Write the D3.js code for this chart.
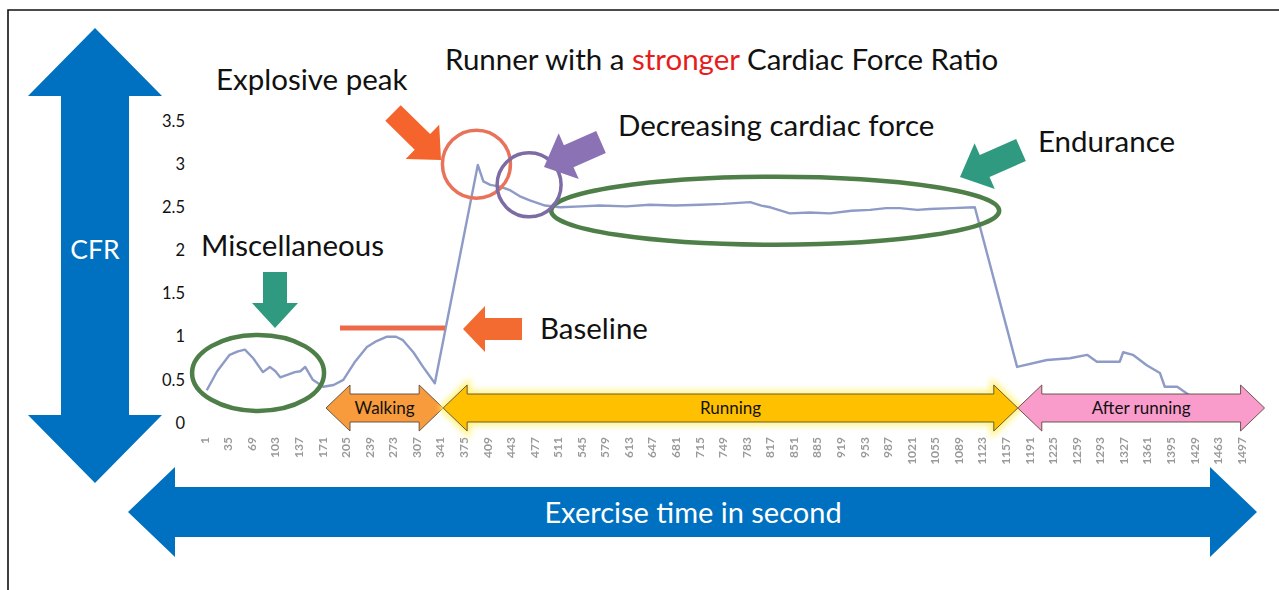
<!DOCTYPE html>
<html>
<head>
<meta charset="utf-8">
<script src="https://cdn.jsdelivr.net/npm/d3@7"></script>
<style>
  body { margin: 0; background: #fff; }
  svg { display: block; font-family: Lato, "Noto Sans", sans-serif; }
</style>
</head>
<body>
<div id="chart"></div>
<script>
var width = 1279;
var height = 590;

// x categories printed under the chart (seconds)
var timeTicks = [1, 35, 69, 103, 137, 171, 205, 239, 273, 307, 341, 375, 409, 443, 477,
  511, 545, 579, 613, 647, 681, 715, 749, 783, 817, 851, 885, 919, 953, 987, 1021,
  1055, 1089, 1123, 1157, 1191, 1225, 1259, 1293, 1327, 1361, 1395, 1429, 1463, 1497];
var cfrTicks = [0, 0.5, 1, 1.5, 2, 2.5, 3, 3.5];

// CFR trace
var cfrTime = [5, 20, 38, 50, 60, 72, 86, 96, 104, 111, 122, 132, 140, 147, 158, 173,
  188, 202, 218, 236, 250, 265, 278, 288, 303, 317, 334, 396, 404, 414, 428, 442,
  456, 471, 493, 515, 545, 572, 610, 644, 680, 717, 750, 789, 805, 818, 846, 875,
  904, 935, 962, 985, 1005, 1030, 1048, 1080, 1113, 1174, 1217, 1250, 1275, 1289,
  1322, 1327, 1341, 1361, 1380, 1387, 1405, 1423];
var cfrValue = [0.38, 0.6, 0.79, 0.83, 0.85, 0.75, 0.59, 0.65, 0.6, 0.53, 0.56, 0.59,
  0.6, 0.65, 0.5, 0.42, 0.44, 0.5, 0.7, 0.88, 0.95, 1.0, 1.0, 0.96, 0.82, 0.65,
  0.46, 2.99, 2.8, 2.76, 2.74, 2.7, 2.63, 2.58, 2.52, 2.5, 2.51, 2.52, 2.51, 2.53,
  2.52, 2.53, 2.54, 2.56, 2.52, 2.5, 2.43, 2.44, 2.43, 2.46, 2.47, 2.49, 2.49, 2.47,
  2.48, 2.49, 2.5, 0.65, 0.73, 0.75, 0.79, 0.71, 0.71, 0.82, 0.79, 0.67, 0.58,
  0.42, 0.42, 0.32];

// exercise phases (start / end in seconds)
var phaseNames = ["Walking", "Running", "After running"];
var phaseStart = [177, 346, 1175];
var phaseEnd = [346, 1175, 1531];
var phaseColors = ["#F79B3C", "#FFC000", "#F99BCB"];

var svg = d3.select("#chart").append("svg")
  .attr("width", width)
  .attr("height", height);

var defs = svg.append("defs");
defs.append("filter").attr("id", "soft")
  .append("feGaussianBlur").attr("stdDeviation", 0.7);
defs.append("filter").attr("id", "glow").attr("x", "-5%").attr("y", "-50%")
  .attr("width", "110%").attr("height", "200%")
  .append("feGaussianBlur").attr("stdDeviation", 3);

// frame
svg.append("path")
  .attr("d", "M8,590 V10 H1279")
  .attr("fill", "none")
  .attr("stroke", "#111")
  .attr("stroke-width", 1.6);

var x = d3.scaleLinear().domain([1, 1497]).range([204, 1241]);
var y = d3.scaleLinear().domain([0, 3.5]).range([423, 121]);

function blockArrow(g, x1, y1, x2, y2, shaftHalf, headHalf, headLen, fill) {
  var len = Math.hypot(x2 - x1, y2 - y1);
  var ang = Math.atan2(y2 - y1, x2 - x1) * 180 / Math.PI;
  var pts = [[0, -shaftHalf], [len - headLen, -shaftHalf], [len - headLen, -headHalf],
    [len, 0], [len - headLen, headHalf], [len - headLen, shaftHalf], [0, shaftHalf]];
  return g.append("polygon")
    .attr("points", pts.join(" "))
    .attr("transform", `translate(${x1},${y1}) rotate(${ang})`)
    .attr("fill", fill);
}

function doubleArrow(g, x1, y1, x2, y2, shaftHalf, headHalf, headLen, fill) {
  var len = Math.hypot(x2 - x1, y2 - y1);
  var ang = Math.atan2(y2 - y1, x2 - x1) * 180 / Math.PI;
  var pts = [[0, 0], [headLen, -headHalf], [headLen, -shaftHalf], [len - headLen, -shaftHalf],
    [len - headLen, -headHalf], [len, 0], [len - headLen, headHalf], [len - headLen, shaftHalf],
    [headLen, shaftHalf], [headLen, headHalf]];
  return g.append("polygon")
    .attr("points", pts.join(" "))
    .attr("transform", `translate(${x1},${y1}) rotate(${ang})`)
    .attr("fill", fill);
}

// big blue axis arrows
var big = svg.append("g");
doubleArrow(big, 95, 28, 95, 483, 34, 67, 68, "#0070C0");
doubleArrow(big, 128, 512, 1257, 512, 25, 45, 47, "#0070C0");
big.append("text")
  .attr("x", 95).attr("y", 259)
  .attr("text-anchor", "middle")
  .attr("fill", "#fff")
  .style("font-size", "26.5px")
  .text("CFR");
big.append("text")
  .attr("x", 693).attr("y", 523)
  .attr("text-anchor", "middle")
  .attr("fill", "#fff")
  .style("font-size", "29px")
  .text("Exercise time in second");

// y axis labels
svg.append("g")
  .attr("transform", "translate(185,0)")
  .call(d3.axisLeft(y).tickValues(cfrTicks).tickSize(0).tickPadding(0).tickFormat(d => d))
  .call(g => g.select(".domain").remove())
  .selectAll("text")
  .attr("fill", "#111")
  .style("font-family", "Lato, sans-serif")
  .style("font-size", "16.5px");

// x axis labels, rotated and faded as in the original scan
svg.append("g")
  .attr("transform", "translate(0,437)")
  .attr("filter", "url(#soft)")
  .call(d3.axisBottom(x).tickValues(timeTicks).tickSize(0).tickFormat(d => d))
  .call(g => g.select(".domain").remove())
  .selectAll("text")
  .attr("transform", "rotate(-90)")
  .attr("x", 0)
  .attr("y", 0)
  .attr("dy", "0.35em")
  .style("text-anchor", "end")
  .style("font-family", "Lato, sans-serif")
  .style("font-size", "12px")
  .style("font-weight", "bold")
  .attr("fill", "#9a9a9a");

// CFR line
var line = d3.line()
  .x((d, i) => x(cfrTime[i]))
  .y(d => y(d));

svg.append("path")
  .datum(cfrValue)
  .attr("d", line)
  .attr("fill", "none")
  .attr("stroke", "#8D9BC6")
  .attr("stroke-width", 2.4)
  .attr("stroke-linejoin", "round");

// phase arrows
var phases = svg.append("g");
var phaseY = 408;
phaseNames.forEach(function (name, i) {
  var x1 = x(phaseStart[i]);
  var x2 = x(phaseEnd[i]);
  if (name === "Running") {
    doubleArrow(phases, x1, phaseY, x2, phaseY, 14, 23, 24, "none")
      .attr("stroke", "#FFF266")
      .attr("stroke-width", 6)
      .attr("filter", "url(#glow)");
  }
  doubleArrow(phases, x1, phaseY, x2, phaseY, 14, 23, 24, phaseColors[i])
    .attr("stroke", "#5a4a3a")
    .attr("stroke-width", 0.9);
  phases.append("text")
    .attr("x", (x1 + x2) / 2)
    .attr("y", phaseY + 6)
    .attr("text-anchor", "middle")
    .attr("fill", "#111")
    .style("font-size", "17px")
    .text(name);
});

// annotation ellipses
var notes = svg.append("g").attr("fill", "none");
notes.append("ellipse")
  .attr("cx", x(79)).attr("cy", y(0.58)).attr("rx", 66).attr("ry", 38)
  .attr("stroke", "#4E7F48").attr("stroke-width", 4.5);
notes.append("ellipse")
  .attr("cx", x(825)).attr("cy", y(2.46)).attr("rx", 224).attr("ry", 34)
  .attr("stroke", "#4E7F48").attr("stroke-width", 4.5);
notes.append("circle")
  .attr("cx", x(394)).attr("cy", y(3.0)).attr("r", 34)
  .attr("stroke", "#E8735A").attr("stroke-width", 3.5);
notes.append("circle")
  .attr("cx", x(470)).attr("cy", y(2.76)).attr("r", 32)
  .attr("stroke", "#7D6BA3").attr("stroke-width", 3.5);

// baseline marker
notes.append("line")
  .attr("x1", 340).attr("x2", 445)
  .attr("y1", y(1.1)).attr("y2", y(1.1))
  .attr("stroke", "#EC6A4A").attr("stroke-width", 5);

// pointer arrows
var pointers = svg.append("g");
blockArrow(pointers, 393, 113, 441, 160, 11, 24, 26, "#F4642C");
blockArrow(pointers, 601, 142, 544, 167, 12, 25, 27, "#8A72B5");
blockArrow(pointers, 1021, 150, 960, 177, 12, 25, 27, "#2F9A80");
blockArrow(pointers, 275, 272, 275, 328, 12, 23, 25, "#2F9A80");
blockArrow(pointers, 522, 329, 463, 329, 11, 23, 22, "#F36B30");

// labels
var labels = svg.append("g").attr("fill", "#111").style("font-size", "29.5px");
var title = labels.append("text").attr("x", 445).attr("y", 70);
title.append("tspan").text("Runner with a ");
title.append("tspan").attr("fill", "#E81C1C").text("stronger");
title.append("tspan").text(" Cardiac Force Ratio");

labels.append("text").attr("x", 216).attr("y", 90).text("Explosive peak");
labels.append("text").attr("x", 618).attr("y", 136).text("Decreasing cardiac force");
labels.append("text").attr("x", 1038).attr("y", 152).text("Endurance");
labels.append("text").attr("x", 201).attr("y", 256).text("Miscellaneous");
labels.append("text").attr("x", 540).attr("y", 339).text("Baseline");
</script>
</body>
</html>
